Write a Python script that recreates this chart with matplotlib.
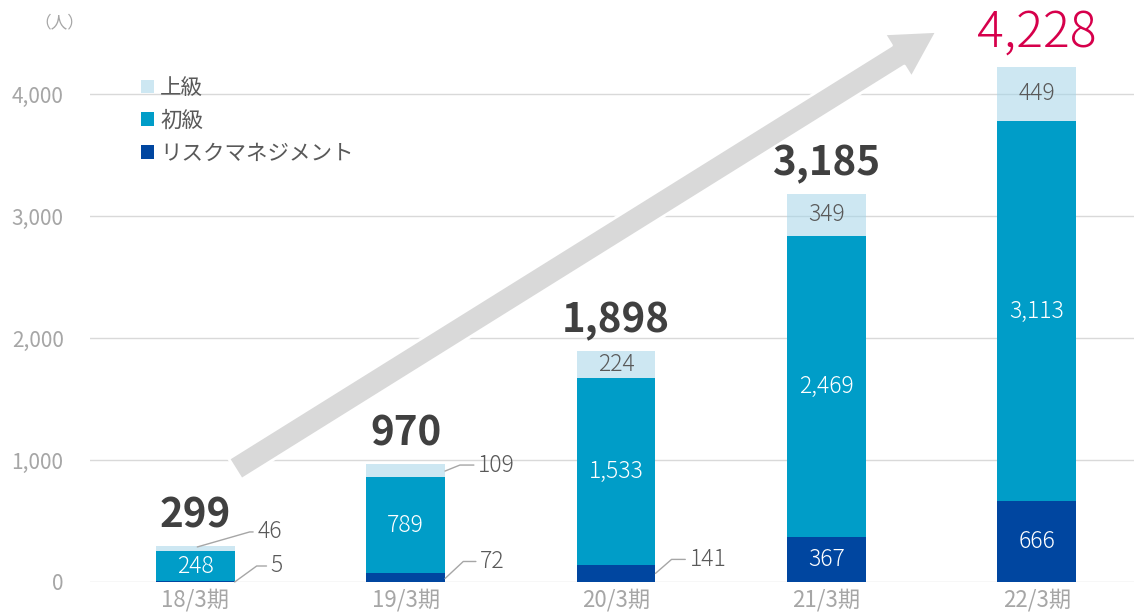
import matplotlib.pyplot as plt
import numpy as np

plt.rcParams['font.family'] = ['Noto Sans CJK JP', 'DejaVu Sans']

# データ（人数）
periods = ['18/3期', '19/3期', '20/3期', '21/3期', '22/3期']
risk = [5, 72, 141, 367, 666]          # リスクマネジメント
basic = [248, 789, 1533, 2469, 3113]   # 初級
advanced = [46, 109, 224, 349, 449]    # 上級
totals = [299, 970, 1898, 3185, 4228]
yticks = [0, 1000, 2000, 3000, 4000]
series_names = ['リスクマネジメント', '初級', '上級']

c_dark = '#0046a0'
c_mid = '#009dc8'
c_light = '#a4d5e9'
gray_txt = '#595959'
axis_txt = '#a6a6a6'

fig = plt.figure(figsize=(11.34, 6.13), dpi=100)
ax = fig.add_axes([90 / 1134, 31 / 613, 1 - 90 / 1134, 573 / 613])

x = np.arange(len(periods))
w = 0.375
risk_a = np.array(risk)
basic_a = np.array(basic)
adv_a = np.array(advanced)

b1 = ax.bar(x, risk_a, w, color=c_dark, zorder=2)
b2 = ax.bar(x, basic_a, w, bottom=risk_a, color=c_mid, zorder=2)
b3 = ax.bar(x, adv_a, w, bottom=risk_a + basic_a, color=c_light, alpha=0.55, zorder=2)

ax.set_xlim(-0.5, 4.462)
ax.set_ylim(0, 4700)
ax.set_yticks(yticks)
ax.set_yticklabels([f'{v:,}' for v in yticks])
ax.set_xticks(x)
ax.set_xticklabels(periods)
ax.tick_params(axis='both', length=0, labelcolor=axis_txt)
ax.tick_params(axis='y', labelsize=15, pad=19)
ax.tick_params(axis='x', labelsize=16, pad=5)
ax.grid(axis='y', color='#d9d9d9', lw=1, zorder=0)
ax.set_axisbelow(True)
for s in ax.spines.values():
    s.set_visible(False)

lab_fs = 16.5

# 棒の中のラベル
for i in range(len(periods)):
    ax.text(x[i], risk_a[i] + basic_a[i] / 2, f'{basic[i]:,}', ha='center', va='center',
            color='white', fontsize=lab_fs, fontweight='light', zorder=4)
    if risk[i] > 300:
        ax.text(x[i], risk_a[i] / 2, f'{risk[i]:,}', ha='center', va='center',
                color='white', fontsize=lab_fs, fontweight='light', zorder=4)
    if advanced[i] > 200:
        ax.text(x[i], risk_a[i] + basic_a[i] + adv_a[i] / 2, f'{advanced[i]:,}', ha='center',
                va='center', color=gray_txt, fontsize=lab_fs, fontweight='light', zorder=4)

# 棒の外のラベル（引き出し線付き）
def leader(xp, yp, label, dx, dy, ang):
    ax.annotate(label, (xp, yp), xytext=(dx, dy), textcoords='offset pixels',
                ha='left', va='center', color=gray_txt, fontsize=lab_fs, fontweight='light',
                zorder=4,
                arrowprops=dict(arrowstyle='-', color='#a6a6a6', lw=1,
                                connectionstyle=f'angle,angleA=0,angleB={ang},rad=0',
                                relpos=(0, 0.5), shrinkA=1, shrinkB=0))

leader(x[0] + 0.01, risk[0] + basic[0] + advanced[0] * 0.75, f'{advanced[0]}', 60, 15, 16)
leader(x[0] + w / 2, 0, f'{risk[0]}', 36, 16, 36)
leader(x[1] + w / 2, risk[1] + basic[1] + advanced[1] * 0.45, f'{advanced[1]}', 33, 6, 22)
leader(x[1] + w / 2, risk[1] * 0.4, f'{risk[1]}', 35, 17, 43)
leader(x[2] + w / 2, risk[2] * 0.5, f'{risk[2]}', 34, 14, 41)

# 合計
for i, t in enumerate(totals):
    if i == len(totals) - 1:
        ax.annotate(f'{t:,}', (x[i], t), xytext=(0, 8), textcoords='offset pixels',
                    ha='center', va='bottom', fontsize=36, fontweight='light',
                    color='#d6004b', zorder=5)
    else:
        ax.annotate(f'{t:,}', (x[i], t), xytext=(0, 9), textcoords='offset pixels',
                    ha='center', va='bottom', fontsize=29, fontweight='bold',
                    color='#404040', zorder=5)

# 成長の矢印
ax.annotate('', xy=(3.525, 4516), xytext=(0.19, 926),
            arrowprops=dict(arrowstyle='simple,head_length=3.3,head_width=3.7,tail_width=1.75',
                            mutation_scale=10, fc='#d9d9d9', ec='white', lw=2,
                            shrinkA=0, shrinkB=0), zorder=1)

ax.legend(handles=[b3, b2, b1], labels=series_names[::-1], loc='upper left',
          bbox_to_anchor=(0.03, 0.915), frameon=False, handlelength=0.6, handleheight=0.6,
          handletextpad=0.3, labelspacing=0.5, fontsize=15.5, labelcolor=gray_txt)

fig.text(34 / 1134, 1 - 23 / 613, '（人）', color=axis_txt, fontsize=12, va='center', ha='left')

fig.savefig('out.png', dpi=100)
